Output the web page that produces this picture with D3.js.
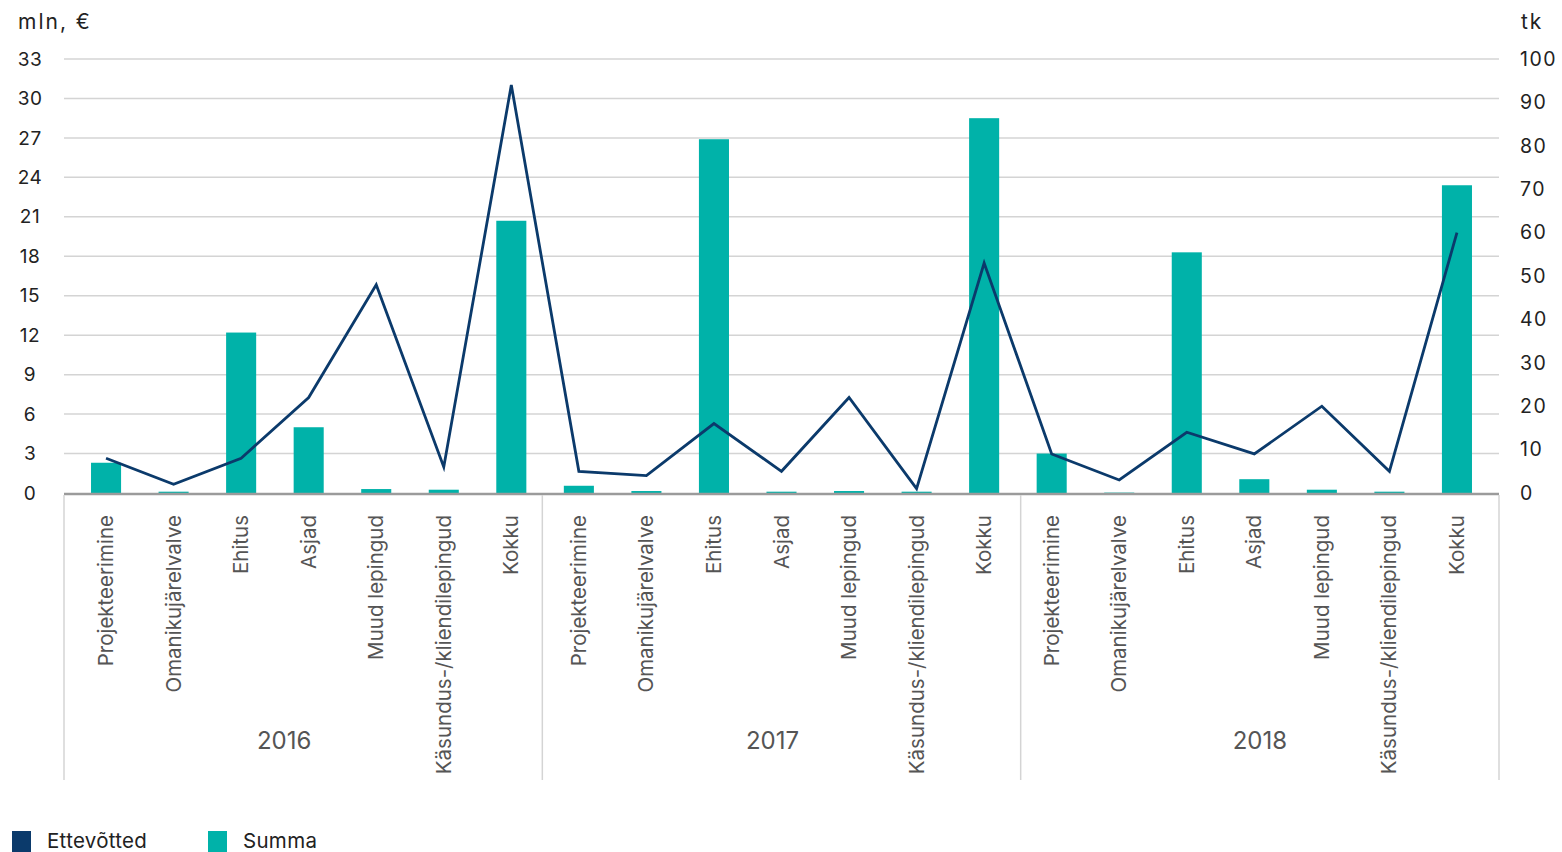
<!DOCTYPE html>
<html>
<head>
<meta charset="utf-8">
<script src="https://cdn.jsdelivr.net/npm/d3@7"></script>
<style>
  body { margin: 0; background: #fff; font-family: Inter, "Noto Sans", sans-serif; }
</style>
</head>
<body>
<div id="chart"></div>
<script>
var years = ["2016", "2017", "2018"];
var categories = ["Projekteerimine", "Omanikujärelvalve", "Ehitus", "Asjad", "Muud lepingud", "Käsundus-/kliendilepingud", "Kokku"];
// summa, mln €
var summa2016 = [2.3, 0.1, 12.2, 5.0, 0.3, 0.25, 20.7];
var summa2017 = [0.55, 0.15, 26.9, 0.1, 0.15, 0.1, 28.5];
var summa2018 = [3.0, 0.03, 18.3, 1.05, 0.25, 0.1, 23.4];
// ettevõtted, tk
var firms2016 = [8, 2, 8, 22, 48, 6, 94];
var firms2017 = [5, 4, 16, 5, 22, 1, 53];
var firms2018 = [9, 3, 14, 9, 20, 5, 60];
var leftTicks = [0, 3, 6, 9, 12, 15, 18, 21, 24, 27, 30, 33];
var rightTicks = [0, 10, 20, 30, 40, 50, 60, 70, 80, 90, 100];

var summa = [summa2016, summa2017, summa2018];
var firms = [firms2016, firms2017, firms2018];
var data = [];
years.forEach(function(y, i) {
  categories.forEach(function(c, j) {
    data.push({ key: y + "|" + c, year: y, cat: c, summa: summa[i][j], firms: firms[i][j] });
  });
});

var margin = { left: 64, right: 63, top: 59, bottom: 359 };
var W = 1562, H = 852;
var width = W - margin.left - margin.right;
var height = H - margin.top - margin.bottom;

var svg = d3.select("#chart").append("svg").attr("width", W).attr("height", H);
var g = svg.append("g").attr("transform", "translate(" + margin.left + "," + margin.top + ")");

var x = d3.scaleBand().domain(data.map(function(d) { return d.key; })).range([0, width]).paddingInner(0.555).paddingOuter(0.4);
var yL = d3.scaleLinear().domain([0, 33]).range([height, 0]);
var yR = d3.scaleLinear().domain([0, 100]).range([height, 0]);

// gridlines
g.append("g").selectAll("line").data(leftTicks.slice(1)).enter().append("line")
  .attr("x1", 0).attr("x2", width)
  .attr("y1", function(d) { return yL(d); }).attr("y2", function(d) { return yL(d); })
  .attr("stroke", "#d4d4d4").attr("stroke-width", 1.5);

// left axis
var axL = g.append("g").call(d3.axisLeft(yL).tickValues(leftTicks).tickSize(0).tickPadding(0));
axL.select(".domain").remove();
axL.selectAll("text").attr("x", -34).attr("text-anchor", "middle")
  .style("font-size", "19px").style("font-family", "Inter, sans-serif").style("letter-spacing", "0.5px").attr("fill", "#222");

// right axis
var axR = g.append("g").attr("transform", "translate(" + width + ",0)").call(d3.axisRight(yR).tickValues(rightTicks).tickSize(0).tickPadding(0));
axR.select(".domain").remove();
axR.selectAll("text").attr("x", 21).attr("text-anchor", "start")
  .style("font-size", "19.5px").style("font-family", "Inter, sans-serif").style("letter-spacing", "1.5px").attr("fill", "#222");

svg.append("text").attr("x", 18).attr("y", 29).text("mln, €")
  .style("font-size", "21px").style("letter-spacing", "2px").attr("fill", "#222");
svg.append("text").attr("x", 1521).attr("y", 29).text("tk")
  .style("font-size", "21px").style("letter-spacing", "2px").attr("fill", "#222");

// bars
g.selectAll("rect.bar").data(data).enter().append("rect")
  .attr("class", "bar")
  .attr("x", function(d) { return x(d.key); })
  .attr("width", x.bandwidth())
  .attr("y", function(d) { return yL(d.summa); })
  .attr("height", function(d) { return height - yL(d.summa); })
  .attr("fill", "#00b2a9");

// line
var line = d3.line()
  .x(function(d) { return x(d.key) + x.bandwidth() / 2; })
  .y(function(d) { return yR(d.firms); });
g.append("path").datum(data).attr("d", line)
  .attr("fill", "none").attr("stroke", "#0b3a6b").attr("stroke-width", 2.8).attr("stroke-linejoin", "miter");

// baseline
g.append("line").attr("x1", 0).attr("x2", width).attr("y1", height + 1).attr("y2", height + 1)
  .attr("stroke", "#9b9b9b").attr("stroke-width", 2.5);

// year separators
var groupW = width / years.length;
g.append("g").selectAll("line").data(d3.range(years.length + 1)).enter().append("line")
  .attr("x1", function(i) { return i * groupW; }).attr("x2", function(i) { return i * groupW; })
  .attr("y1", height + 2).attr("y2", height + 287)
  .attr("stroke", "#d4d4d4").attr("stroke-width", 1.5);

// category labels
g.append("g").selectAll("text").data(data).enter().append("text")
  .attr("transform", function(d) {
    return "translate(" + (x(d.key) + x.bandwidth() / 2 + 7) + "," + (height + 22) + ") rotate(-90)";
  })
  .attr("text-anchor", "end")
  .style("font-size", "20.5px").attr("fill", "#555")
  .text(function(d) { return d.cat; });

// year labels (nudged like the original layout)
var yearShift = [-19, -9, 0];
g.append("g").selectAll("text").data(years).enter().append("text")
  .attr("x", function(d, i) { return i * groupW + groupW / 2 + yearShift[i]; })
  .attr("y", height + 256)
  .attr("text-anchor", "middle")
  .style("font-size", "24px").attr("fill", "#555")
  .text(function(d) { return d; });

// legend
var legend = [{ name: "Ettevõtted", color: "#0b3a6b", x: 12 }, { name: "Summa", color: "#00b2a9", x: 208 }];
var lg = svg.append("g").selectAll("g").data(legend).enter().append("g")
  .attr("transform", function(d) { return "translate(" + d.x + ",831)"; });
lg.append("rect").attr("width", 19).attr("height", 21).attr("fill", function(d) { return d.color; });
lg.append("text").attr("x", 35).attr("y", 17).text(function(d) { return d.name; })
  .style("font-size", "20.5px").style("letter-spacing", "0.3px").attr("fill", "#222");
</script>
</body>
</html>
